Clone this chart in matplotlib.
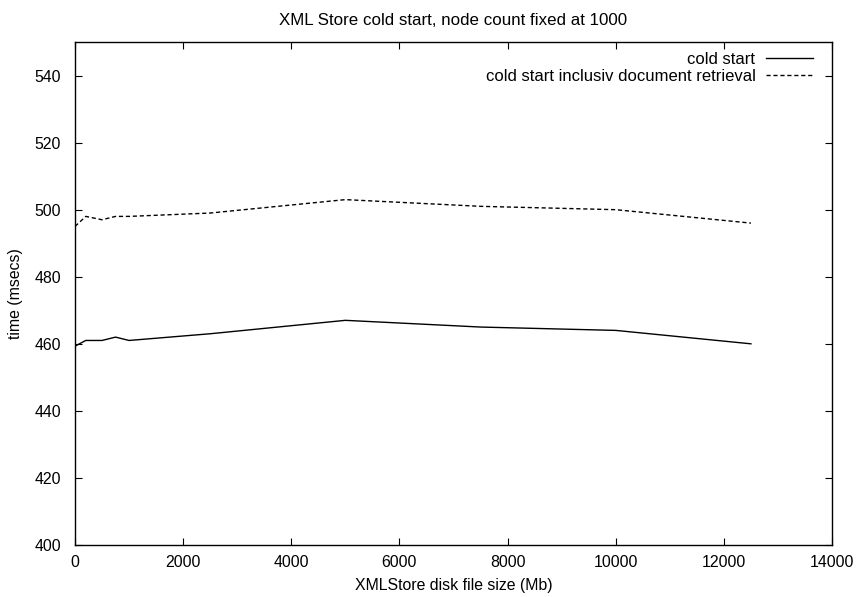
#!/usr/bin/env python3
"""XML Store cold start timings at a fixed node count."""

import matplotlib
matplotlib.use("Agg")
import matplotlib.pyplot as plt

file_size_mb = [0, 200, 500, 750, 1000, 2500, 5000, 7500, 10000, 12500]
cold_start = [459.3, 461, 461, 462, 461, 463, 467, 465, 464, 460]
cold_start_retrieval = [495, 498, 497, 498, 498, 499, 503, 501, 500, 496]

plt.rcParams["font.family"] = ["Liberation Sans", "DejaVu Sans"]
plt.rcParams["font.size"] = 11.4

fig = plt.figure(figsize=(8.59, 5.97), dpi=100)
ax = fig.add_axes([0.0873, 0.0871, 0.8813, 0.8425])

ax.plot(file_size_mb, cold_start, color="black", linewidth=1.0, label="cold start")
ax.plot(file_size_mb, cold_start_retrieval, color="black", linewidth=1.0,
        linestyle=(0, (3, 2)), label="cold start inclusiv document retrieval")

ax.set_xlim(0, 14000)
ax.set_ylim(400, 550)
ax.set_xticks(range(0, 14001, 2000))
ax.set_yticks(range(400, 541, 20))
ax.tick_params(direction="in", top=True, right=True, length=5, width=0.8)
ax.tick_params(axis="y", pad=10)
ax.tick_params(axis="x", pad=7)
for side in ax.spines.values():
    side.set_linewidth(1.0)

ax.set_title("XML Store cold start, node count fixed at 1000", fontsize=12.2, pad=12)
ax.set_xlabel("XMLStore disk file size (Mb)", labelpad=6)
ax.set_ylabel("time (msecs)", labelpad=8)

ax.legend(loc="upper right", bbox_to_anchor=(0.996, 1.011), frameon=False,
          markerfirst=False, fontsize=12, handlelength=2.8, borderaxespad=0.55,
          labelspacing=0.1, handletextpad=0.66)

fig.savefig("out.png", dpi=100)
